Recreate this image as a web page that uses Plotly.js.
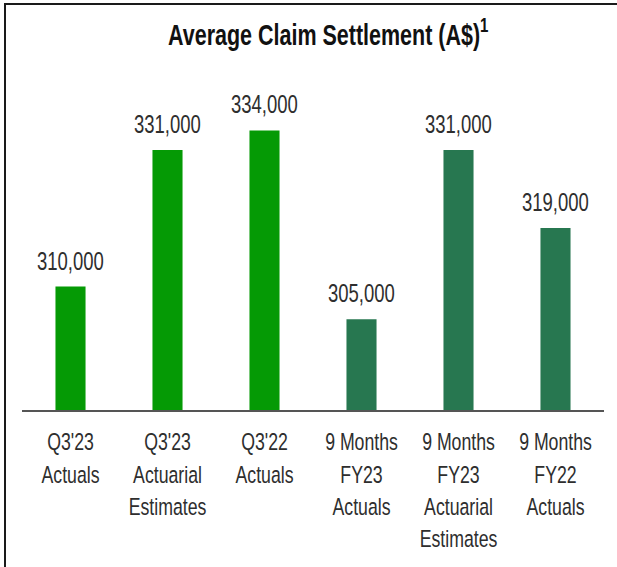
<!DOCTYPE html>
<html>
<head>
<meta charset="utf-8">
<script src="https://cdn.plot.ly/plotly-3.0.1.min.js"></script>
<style>
  html, body { margin: 0; padding: 0; background: #fff; }
  #wrap { position: relative; width: 617px; height: 567px; overflow: hidden; background: #fff; }
  /* The reference image is vertically stretched; draw at 617x405 and stretch by 1.4 */
  #chart { position: absolute; left: 0; top: 0; width: 617px; height: 405px;
           transform: scaleY(1.4); transform-origin: 0 0; }
  #frame { position: absolute; left: 4px; top: 3px; width: 700px; height: 700px;
           border-left: 2px solid #1a1a1a; border-top: 2px solid #1a1a1a; pointer-events: none; }
</style>
</head>
<body>
<div id="wrap">
  <div id="chart"></div>
  <div id="frame"></div>
</div>
<script>
const categories = [
  "Q3'23<br>Actuals",
  "Q3'23<br>Actuarial<br>Estimates",
  "Q3'22<br>Actuals",
  "9 Months<br>FY23<br>Actuals",
  "9 Months<br>FY23<br>Actuarial<br>Estimates",
  "9 Months<br>FY22<br>Actuals"
];
const values = [310000, 331000, 334000, 305000, 331000, 319000];
const valueLabels = ["310,000", "331,000", "334,000", "305,000", "331,000", "319,000"];
const barColors = ["#059a05", "#059a05", "#059a05", "#277750", "#277750", "#277750"];

const FONT = '"Liberation Sans", Arial, Helvetica, sans-serif';

const trace = {
  type: 'bar',
  x: categories,
  y: values,
  marker: { color: barColors },
  width: 0.31,
  hoverinfo: 'none'
};

const annotations = categories.map((c, i) => ({
  x: c, y: values[i], xref: 'x', yref: 'y',
  text: valueLabels[i], showarrow: false,
  xanchor: 'center', yanchor: 'bottom', yshift: 6,
  font: { family: FONT, size: 18.5, color: '#2e2e2e' }
}));

const layout = {
  width: 617,
  height: 405,
  margin: { l: 22, r: 13, t: 57, b: 112 },
  paper_bgcolor: '#ffffff',
  plot_bgcolor: '#ffffff',
  showlegend: false,
  annotations: annotations,
  title: {
    text: '<b>Average Claim Settlement (A$)<sup>1</sup></b>',
    font: { family: FONT, size: 21.5, color: '#111' },
    xref: 'container', x: 0.532, xanchor: 'center',
    yref: 'container', y: 0.94, yanchor: 'middle'
  },
  xaxis: {
    type: 'category',
    showline: true, linecolor: '#555', linewidth: 1.5,
    showgrid: false, zeroline: false,
    ticks: '', ticklabelstandoff: 6,
    tickfont: { family: FONT, size: 17.7, color: '#2e2e2e' }
  },
  yaxis: {
    range: [291000, 341800],
    visible: false,
    showgrid: false, zeroline: false
  }
};

Plotly.newPlot('chart', [trace], layout, { displayModeBar: false, staticPlot: true });
</script>
</body>
</html>
